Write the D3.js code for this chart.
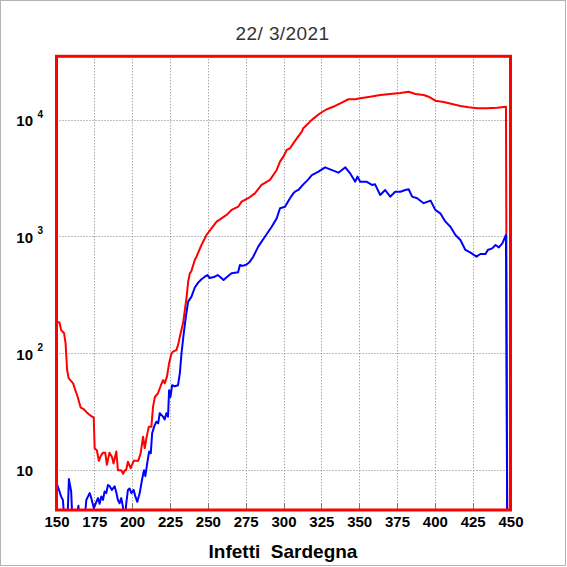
<!DOCTYPE html>
<html>
<head>
<meta charset="utf-8">
<script src="https://cdn.jsdelivr.net/npm/d3@7/dist/d3.min.js"></script>
<style>
body { margin: 0; background: #fff; }
</style>
</head>
<body>
<div id="chart"></div>
<script>
//Values (day of year from 1 Jan 2020, people)
var redDays = [150, 152, 153, 155, 156, 157, 158, 161, 162, 164, 166, 168, 170, 172, 174.6, 175.2,
    176.7, 178, 179, 180.7, 182.2, 183.3, 185, 186.6, 187.7, 189.5, 190.6, 192.8, 194, 195.2, 196,
    197.2, 199, 201, 204, 205.6, 207.2, 208.3, 209.6, 211, 212.7, 213.8, 215, 217, 219, 220.4,
    221.5, 223, 224.4, 226, 227, 229.2, 230.3, 232, 233.6, 234.8, 236, 237, 238.1, 239, 241.4,
    242.5, 245.8, 249.1, 252.4, 255.8, 259, 262.4, 265.7, 270.1, 272.3, 276.7, 281.1, 285.5,
    291.1, 295.5, 297.7, 299.9, 302.1, 304.3, 307.6, 312.1, 313.1, 318.7, 324.2, 328.6, 334.1,
    338.5, 342.9, 347.4, 350.7, 357.3, 363.9, 370.5, 377.2, 382.7, 387.1, 392.6, 395.9, 400.3,
    405.8, 411.4, 416.9, 422.4, 427.9, 434.5, 441.2, 447, 448];
var redValues = [186, 183, 158, 148, 121, 72, 61, 55, 50, 42, 34, 33, 31, 29.4, 28, 15.3,
    14.6, 11.9, 12.9, 14, 14, 11, 14, 12.9, 11.3, 14.3, 9.9, 9.9, 9.2, 9.9, 9.9,
    11.7, 10.3, 11.9, 11.9, 13.8, 19.2, 15.3, 19.2, 23.4, 23.4, 34.7, 42, 45, 53, 58.7,
    55, 62.8, 81.7, 99.5, 103, 106, 117, 148, 180, 234, 305, 410, 483, 500, 628,
    671, 845, 1030, 1175, 1340, 1430, 1530, 1690, 1800, 1990, 2130, 2345, 2765,
    3055, 3720, 4385, 4835, 5520, 5705, 6600, 7925, 8475, 10000, 11400, 12340, 13160,
    14060, 15030, 15030, 15310, 15800, 16350, 16680, 17000, 17450, 16680, 16350, 15800, 14620,
    14250, 13690, 13160, 12820, 12580, 12580, 12700, 12970, 1];

var blueDays = [150, 152, 153, 154.2, 155.8, 157, 158.2, 159.7, 160.8, 162, 164.5, 165.5, 168,
    169.7, 171.9, 173, 174.7, 176.3, 177.4, 178.5, 179.6, 180.7, 181.8, 182.9, 184, 185.2, 186.6,
    188.4, 189.5, 190.6, 191.7, 192.8, 193.9, 195, 196.1, 197.2, 198.3, 199.5, 201, 202.1, 203.4,
    205, 206.5, 207.8, 208.7, 210.1, 211.2, 212.3, 213.2, 214.5, 216, 217.2, 218.2, 220.4, 221.5,
    222.6, 223.7, 224.4, 225.3, 226.4, 228.2, 230.3, 231.5, 232.6, 234.1, 235.5, 237, 239.2,
    241.4, 243.6, 245.8, 248, 249.8, 251.3, 254.6, 256.5, 258, 260.4, 263.4, 265.7, 270, 271.2,
    273, 275.6, 277.8, 280, 283.3, 287.7, 292.2, 295.5, 297.7, 301, 304.3, 306.5, 307.6, 309.8,
    313.1, 316.4, 318.7, 323.1, 327.5, 330.8, 336.3, 340.9, 344, 347.4, 348.9, 350.7, 354.8,
    358.4, 360.5, 363.9, 367.2, 370.5, 373.8, 377.2, 380.5, 382.7, 385, 388.3, 392.6, 397.2,
    400.3, 403.6, 407, 410.3, 413.6, 416.9, 420.2, 423.6, 427.5, 430.1, 433.5, 435, 437.9,
    440.1, 442.3, 444.6, 447, 448];
var blueValues = [7.7, 6.5, 5.9, 5.5, 3, 3, 8.3, 6.5, 3, 3, 4.9, 3, 3,
    5.5, 6.3, 5.7, 4.67, 5.3, 5.7, 5.1, 5.9, 5.5, 6.5, 6.3, 7.4, 7.2, 6.7,
    7.2, 6.4, 5.5, 5.15, 5.7, 4.8, 3.5, 5.15, 6.7, 6.9, 6.3, 6.7, 5.9, 5.3,
    6.3, 8.2, 9.9, 8.8, 11.7, 14.3, 13.8, 20.5, 23.4, 25.8, 25, 30.5, 28.5, 27,
    30.5, 28.5, 48, 42, 53, 52, 53, 67, 99.5, 148, 205, 276, 305,
    365, 402, 430, 452, 467, 440, 452, 467, 452, 424, 458, 483, 494, 570,
    560, 575, 608, 671, 818, 996, 1213, 1430, 1745, 1800, 2130, 2345, 2420, 2505,
    2800, 3090, 3365, 3595, 3920, 3765, 3525, 3920, 3485, 2950, 3260, 2950, 2950,
    2765, 2800, 2270, 2505, 2195, 2420, 2420, 2505, 2540, 2195, 2125, 1930, 2030,
    1690, 1580, 1340, 1213, 1030, 934, 766, 726, 671, 708, 708, 766, 790,
    845, 806, 873, 1030, 1];

var xTicks = [150, 175, 200, 225, 250, 275, 300, 325, 350, 375, 400, 425, 450];
var yTicks = [10, 100, 1000, 10000];
var yExponents = ["", "2", "3", "4"];
var chartTitle = "22/ 3/2021";
var xLabel = "Infetti  Sardegna";

//Set some initial values
var width = 567,
    height = 567,
    plotLeft = 56.5,
    plotRight = 510.5,
    plotTop = 56.3,
    plotBottom = 510;

var redData = redDays.map(function(d, i) { return {day: d, value: redValues[i]}; });
var blueData = blueDays.map(function(d, i) { return {day: d, value: blueValues[i]}; });

var svg = d3.select("#chart")
    .append("svg")
    .attr("width", width)
    .attr("height", height);

//Outer grey border
svg.append("rect")
    .attr("x", 0.5)
    .attr("y", 0.5)
    .attr("width", width - 2)
    .attr("height", height - 2)
    .attr("fill", "#fff")
    .attr("stroke", "#b4b4b4");

//Scales
var x = d3.scaleLinear()
    .domain([150, 450])
    .range([plotLeft, plotRight]);
var y = d3.scaleLog()
    .domain([4.51, 35100])
    .range([plotBottom, plotTop]);

//Grid lines
svg.append("g")
    .selectAll("line")
    .data(xTicks.slice(1, -1))
    .enter()
    .append("line")
    .attr("x1", function(d) { return Math.round(x(d)) + 0.5; })
    .attr("x2", function(d) { return Math.round(x(d)) + 0.5; })
    .attr("y1", plotTop)
    .attr("y2", plotBottom)
    .attr("stroke", "#808080")
    .attr("stroke-width", 1)
    .attr("stroke-dasharray", "1,2");
svg.append("g")
    .selectAll("line")
    .data(yTicks)
    .enter()
    .append("line")
    .attr("x1", plotLeft)
    .attr("x2", plotRight)
    .attr("y1", function(d) { return Math.round(y(d)) + 0.5; })
    .attr("y2", function(d) { return Math.round(y(d)) + 0.5; })
    .attr("stroke", "#808080")
    .attr("stroke-width", 1)
    .attr("stroke-dasharray", "1,2");

//Small tick marks on the bottom edge
svg.append("g")
    .selectAll("line")
    .data(xTicks)
    .enter()
    .append("line")
    .attr("x1", function(d) { return Math.round(x(d)) + 0.5; })
    .attr("x2", function(d) { return Math.round(x(d)) + 0.5; })
    .attr("y1", plotBottom)
    .attr("y2", plotBottom - 7)
    .attr("stroke", "#777")
    .attr("stroke-width", 1);

//Create the lines
svg.append("clipPath")
    .attr("id", "plotclip")
    .append("rect")
    .attr("x", plotLeft)
    .attr("y", plotTop)
    .attr("width", plotRight - plotLeft)
    .attr("height", plotBottom - plotTop);

var line = d3.line()
    .x(function(d) { return x(d.day); })
    .y(function(d) { return y(d.value); });

svg.append("path")
    .datum(redData)
    .attr("clip-path", "url(#plotclip)")
    .attr("fill", "none")
    .attr("stroke", "#ff0000")
    .attr("stroke-width", 2)
    .attr("stroke-linejoin", "round")
    .attr("d", line);
svg.append("path")
    .datum(blueData)
    .attr("clip-path", "url(#plotclip)")
    .attr("fill", "none")
    .attr("stroke", "#0000ff")
    .attr("stroke-width", 2)
    .attr("stroke-linejoin", "round")
    .attr("d", line);

//Red frame
svg.append("rect")
    .attr("x", plotLeft)
    .attr("y", plotTop)
    .attr("width", plotRight - plotLeft)
    .attr("height", plotBottom - plotTop)
    .attr("fill", "none")
    .attr("stroke", "#ff0000")
    .attr("stroke-width", 3);

//Create the x axis
var xAxis = svg.append("g")
    .attr("transform", "translate(0," + plotBottom + ")")
    .call(d3.axisBottom(x).tickValues(xTicks).tickSize(0).tickPadding(6).tickFormat(d3.format("d")));
xAxis.select(".domain").remove();
xAxis.selectAll("text")
    .style("font-family", "'Liberation Sans', Arial, sans-serif")
    .style("font-weight", "bold")
    .style("font-size", "15px")
    .attr("fill", "#000");

//Create the y axis labels (10 with exponent)
svg.append("g")
    .selectAll("text")
    .data(yTicks)
    .enter()
    .append("text")
    .attr("x", 33)
    .attr("y", function(d) { return y(d) + 6.5; })
    .attr("text-anchor", "end")
    .style("font-family", "'Liberation Sans', Arial, sans-serif")
    .style("font-weight", "bold")
    .style("font-size", "15px")
    .attr("fill", "#000")
    .text("10");
svg.append("g")
    .selectAll("text")
    .data(yTicks)
    .enter()
    .append("text")
    .attr("x", 37.5)
    .attr("y", function(d) { return y(d) - 2; })
    .style("font-family", "'Liberation Sans', Arial, sans-serif")
    .style("font-weight", "bold")
    .style("font-size", "10px")
    .attr("fill", "#000")
    .text(function(d, i) { return yExponents[i]; });

//Create the chart title
svg.append("text")
    .attr("x", 282.5)
    .attr("y", 40)
    .attr("text-anchor", "middle")
    .style("font-family", "'Liberation Sans', Arial, sans-serif")
    .style("font-size", "19px")
    .style("letter-spacing", "0.4px")
    .style("white-space", "pre")
    .attr("fill", "#333")
    .text(chartTitle);

//Create the x axis label
svg.append("text")
    .attr("x", 283)
    .attr("y", 558)
    .attr("text-anchor", "middle")
    .style("font-family", "'Liberation Sans', Arial, sans-serif")
    .style("font-weight", "bold")
    .style("font-size", "19px")
    .style("white-space", "pre")
    .attr("fill", "#000")
    .text(xLabel);
</script>
</body>
</html>
